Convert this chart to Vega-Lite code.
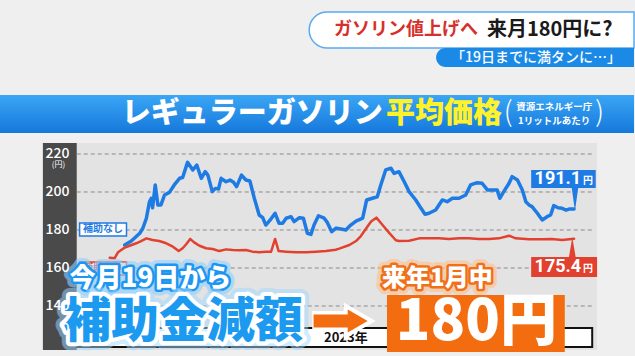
{
"$schema":"https://vega.github.io/schema/vega-lite/v6.json",
"width":635,"height":356,
"autosize":{"type":"fit","contains":"padding"},
"padding":0,
"background":"#efefef",
"config":{"view":{"stroke":null},"text":{"font":"Noto Sans CJK JP"}},
"datasets":{"prices":[
{"series":"補助なし","date":"2022-02-27","value":172.1},
{"series":"補助なし","date":"2022-03-14","value":174.2},
{"series":"補助なし","date":"2022-04-02","value":178.3},
{"series":"補助なし","date":"2022-04-09","value":180.9},
{"series":"補助なし","date":"2022-04-17","value":186.2},
{"series":"補助なし","date":"2022-04-24","value":194.9},
{"series":"補助なし","date":"2022-04-28","value":196.7},
{"series":"補助なし","date":"2022-05-01","value":191.7},
{"series":"補助なし","date":"2022-05-07","value":203.7},
{"series":"補助なし","date":"2022-05-13","value":193.2},
{"series":"補助なし","date":"2022-05-20","value":193.2},
{"series":"補助なし","date":"2022-05-28","value":198.4},
{"series":"補助なし","date":"2022-06-08","value":199.8},
{"series":"補助なし","date":"2022-06-19","value":203.7},
{"series":"補助なし","date":"2022-07-01","value":207.2},
{"series":"補助なし","date":"2022-07-08","value":207.6},
{"series":"補助なし","date":"2022-07-19","value":215.6},
{"series":"補助なし","date":"2022-07-31","value":211.6},
{"series":"補助なし","date":"2022-08-09","value":214.2},
{"series":"補助なし","date":"2022-08-19","value":207.2},
{"series":"補助なし","date":"2022-08-28","value":210.7},
{"series":"補助なし","date":"2022-09-03","value":208.9},
{"series":"補助なし","date":"2022-09-13","value":200.2},
{"series":"補助なし","date":"2022-09-20","value":201.9},
{"series":"補助なし","date":"2022-09-27","value":201.6},
{"series":"補助なし","date":"2022-10-03","value":207.2},
{"series":"補助なし","date":"2022-10-14","value":205.4},
{"series":"補助なし","date":"2022-10-23","value":206.3},
{"series":"補助なし","date":"2022-10-31","value":205.1},
{"series":"補助なし","date":"2022-11-07","value":202.8},
{"series":"補助なし","date":"2022-11-18","value":208.9},
{"series":"補助なし","date":"2022-11-28","value":206.3},
{"series":"補助なし","date":"2022-12-07","value":205.8},
{"series":"補助なし","date":"2022-12-17","value":196.7},
{"series":"補助なし","date":"2022-12-28","value":187.9},
{"series":"補助なし","date":"2023-01-05","value":186.5},
{"series":"補助なし","date":"2023-01-12","value":182.6},
{"series":"補助なし","date":"2023-01-22","value":185.3},
{"series":"補助なし","date":"2023-02-02","value":188.8},
{"series":"補助なし","date":"2023-02-11","value":183.5},
{"series":"補助なし","date":"2023-02-19","value":183.5},
{"series":"補助なし","date":"2023-02-27","value":186.2},
{"series":"補助なし","date":"2023-03-10","value":187.0},
{"series":"補助なし","date":"2023-03-17","value":184.4},
{"series":"補助なし","date":"2023-03-29","value":186.5},
{"series":"補助なし","date":"2023-04-07","value":186.2},
{"series":"補助なし","date":"2023-04-16","value":178.3},
{"series":"補助なし","date":"2023-04-24","value":177.7},
{"series":"補助なし","date":"2023-05-01","value":182.6},
{"series":"補助なし","date":"2023-05-11","value":187.5},
{"series":"補助なし","date":"2023-05-24","value":186.2},
{"series":"補助なし","date":"2023-05-31","value":184.0},
{"series":"補助なし","date":"2023-06-10","value":179.1},
{"series":"補助なし","date":"2023-06-20","value":181.0},
{"series":"補助なし","date":"2023-07-01","value":180.5},
{"series":"補助なし","date":"2023-07-12","value":180.0},
{"series":"補助なし","date":"2023-07-23","value":182.6},
{"series":"補助なし","date":"2023-08-04","value":184.7},
{"series":"補助なし","date":"2023-08-19","value":186.2},
{"series":"補助なし","date":"2023-08-28","value":195.8},
{"series":"補助なし","date":"2023-09-10","value":196.7},
{"series":"補助なし","date":"2023-09-21","value":197.5},
{"series":"補助なし","date":"2023-09-29","value":203.7},
{"series":"補助なし","date":"2023-10-10","value":211.6},
{"series":"補助なし","date":"2023-10-22","value":212.5},
{"series":"補助なし","date":"2023-10-29","value":209.8},
{"series":"補助なし","date":"2023-11-09","value":210.7},
{"series":"補助なし","date":"2023-11-21","value":205.4},
{"series":"補助なし","date":"2023-12-02","value":200.2},
{"series":"補助なし","date":"2023-12-17","value":195.8},
{"series":"補助なし","date":"2023-12-29","value":191.4},
{"series":"補助なし","date":"2024-01-07","value":188.3},
{"series":"補助なし","date":"2024-01-16","value":188.8},
{"series":"補助なし","date":"2024-01-31","value":190.5},
{"series":"補助なし","date":"2024-02-15","value":195.8},
{"series":"補助なし","date":"2024-02-26","value":194.9},
{"series":"補助なし","date":"2024-03-09","value":196.7},
{"series":"補助なし","date":"2024-03-24","value":196.7},
{"series":"補助なし","date":"2024-04-08","value":198.4},
{"series":"補助なし","date":"2024-04-19","value":203.7},
{"series":"補助なし","date":"2024-05-04","value":204.9},
{"series":"補助なし","date":"2024-05-15","value":204.6},
{"series":"補助なし","date":"2024-05-27","value":201.1},
{"series":"補助なし","date":"2024-06-11","value":201.1},
{"series":"補助なし","date":"2024-06-18","value":201.1},
{"series":"補助なし","date":"2024-06-24","value":196.7},
{"series":"補助なし","date":"2024-07-03","value":200.2},
{"series":"補助なし","date":"2024-07-15","value":204.6},
{"series":"補助なし","date":"2024-07-22","value":208.1},
{"series":"補助なし","date":"2024-08-03","value":206.3},
{"series":"補助なし","date":"2024-08-14","value":201.1},
{"series":"補助なし","date":"2024-08-22","value":194.9},
{"series":"補助なし","date":"2024-08-29","value":193.2},
{"series":"補助なし","date":"2024-09-05","value":192.3},
{"series":"補助なし","date":"2024-09-17","value":188.8},
{"series":"補助なし","date":"2024-09-28","value":185.3},
{"series":"補助なし","date":"2024-10-09","value":187.0},
{"series":"補助なし","date":"2024-10-17","value":187.9},
{"series":"補助なし","date":"2024-10-24","value":192.8},
{"series":"補助なし","date":"2024-11-03","value":191.7},
{"series":"補助なし","date":"2024-11-12","value":191.4},
{"series":"補助なし","date":"2024-11-21","value":190.5},
{"series":"補助なし","date":"2024-11-29","value":191.1},
{"series":"補助なし","date":"2024-12-09","value":191.1},
{"series":"補助あり","date":"2022-01-24","value":165.4},
{"series":"補助あり","date":"2022-02-04","value":165.1},
{"series":"補助あり","date":"2022-02-12","value":168.3},
{"series":"補助あり","date":"2022-02-19","value":169.5},
{"series":"補助あり","date":"2022-02-27","value":170.7},
{"series":"補助あり","date":"2022-03-10","value":171.7},
{"series":"補助あり","date":"2022-03-25","value":173.0},
{"series":"補助あり","date":"2022-04-05","value":174.2},
{"series":"補助あり","date":"2022-04-17","value":175.6},
{"series":"補助あり","date":"2022-05-01","value":174.7},
{"series":"補助あり","date":"2022-05-16","value":174.2},
{"series":"補助あり","date":"2022-06-01","value":173.0},
{"series":"補助あり","date":"2022-06-16","value":171.2},
{"series":"補助あり","date":"2022-06-29","value":168.9},
{"series":"補助あり","date":"2022-07-08","value":170.4},
{"series":"補助あり","date":"2022-07-16","value":172.5},
{"series":"補助あり","date":"2022-07-25","value":175.3},
{"series":"補助あり","date":"2022-08-03","value":173.5},
{"series":"補助あり","date":"2022-08-15","value":171.7},
{"series":"補助あり","date":"2022-08-30","value":170.4},
{"series":"補助あり","date":"2022-09-14","value":170.0},
{"series":"補助あり","date":"2022-09-29","value":168.9},
{"series":"補助あり","date":"2022-10-14","value":169.8},
{"series":"補助あり","date":"2022-10-29","value":169.5},
{"series":"補助あり","date":"2022-11-13","value":169.3},
{"series":"補助あり","date":"2022-11-28","value":169.5},
{"series":"補助あり","date":"2022-12-13","value":168.6},
{"series":"補助あり","date":"2022-12-28","value":168.3},
{"series":"補助あり","date":"2023-01-12","value":168.6},
{"series":"補助あり","date":"2023-01-24","value":168.6},
{"series":"補助あり","date":"2023-02-02","value":175.3},
{"series":"補助あり","date":"2023-02-10","value":168.9},
{"series":"補助あり","date":"2023-02-27","value":168.6},
{"series":"補助あり","date":"2023-03-21","value":168.3},
{"series":"補助あり","date":"2023-04-13","value":168.3},
{"series":"補助あり","date":"2023-05-05","value":168.6},
{"series":"補助あり","date":"2023-05-28","value":169.0},
{"series":"補助あり","date":"2023-06-19","value":169.6},
{"series":"補助あり","date":"2023-06-27","value":170.2},
{"series":"補助あり","date":"2023-07-20","value":172.1},
{"series":"補助あり","date":"2023-08-04","value":174.2},
{"series":"補助あり","date":"2023-08-15","value":176.8},
{"series":"補助あり","date":"2023-08-26","value":180.5},
{"series":"補助あり","date":"2023-09-07","value":184.5},
{"series":"補助あり","date":"2023-09-19","value":186.5},
{"series":"補助あり","date":"2023-10-03","value":182.6},
{"series":"補助あり","date":"2023-10-18","value":178.5},
{"series":"補助あり","date":"2023-11-02","value":174.6},
{"series":"補助あり","date":"2023-11-09","value":174.2},
{"series":"補助あり","date":"2023-12-02","value":174.3},
{"series":"補助あり","date":"2023-12-25","value":175.6},
{"series":"補助あり","date":"2024-01-16","value":175.6},
{"series":"補助あり","date":"2024-02-08","value":175.6},
{"series":"補助あり","date":"2024-03-01","value":175.3},
{"series":"補助あり","date":"2024-03-24","value":175.6},
{"series":"補助あり","date":"2024-04-15","value":175.6},
{"series":"補助あり","date":"2024-05-08","value":175.3},
{"series":"補助あり","date":"2024-05-31","value":175.3},
{"series":"補助あり","date":"2024-06-22","value":175.6},
{"series":"補助あり","date":"2024-07-15","value":177.0},
{"series":"補助あり","date":"2024-07-30","value":175.6},
{"series":"補助あり","date":"2024-08-29","value":175.1},
{"series":"補助あり","date":"2024-09-28","value":175.1},
{"series":"補助あり","date":"2024-10-20","value":175.3},
{"series":"補助あり","date":"2024-11-12","value":174.7},
{"series":"補助あり","date":"2024-12-09","value":175.4}
]},
"encoding":{
 "x":{"field":"date","type":"temporal","axis":null,"scale":{"domain":[{"year":2021,"month":5,"date":21},{"year":2025,"month":4,"date":23,"hours":12}],"nice":false}},
 "y":{"field":"value","type":"quantitative","scale":{"domain":[113.68,301.05],"nice":false,"zero":false},
  "axis":{"orient":"left","offset":-70,"values":[127.9,140,160,180,200,220],"labelExpr":"datum.value < 135 ? '0' : datum.label","domain":false,"ticks":false,"tickSize":0,"grid":false,"labelPadding":1,"labelColor":"#ffffff","labelFont":"Noto Sans CJK JP","labelFontSize":14,"labelFontWeight":500,"title":null,"zindex":1,"labelOverlap":false}}
},
"layer":[
 {"data":{"values":[{"date":"2021-08-26","date2":"2025-01-30","value":225.8,"value2":116.8}]},
  "mark":{"type":"rect","color":"#e3e3e3"},"encoding":{"x2":{"field":"date2"},"y2":{"field":"value2"}}},
 {"data":{"values":[{"date":"2021-08-26","date2":"2021-11-10T12:00:00","value":225.8,"value2":116.8}]},
  "mark":{"type":"rect","color":"#4a4a4a"},"encoding":{"x2":{"field":"date2"},"y2":{"field":"value2"}}},
 {"data":{"values":[{"value":140,"date":"2021-11-10T12:00:00","date2":"2025-01-19"},{"value":160,"date":"2021-11-10T12:00:00","date2":"2025-01-19"},{"value":180,"date":"2021-11-10T12:00:00","date2":"2025-01-19"},{"value":200,"date":"2021-11-10T12:00:00","date2":"2025-01-19"},{"value":220,"date":"2021-11-10T12:00:00","date2":"2025-01-19"}]},
  "mark":{"type":"rule","color":"#8a8a8a","strokeWidth":1,"strokeDash":[4,3]},"encoding":{"x2":{"field":"date2"}}},
 {"data":{"values":[{"text":"(円)","date":"2021-09-30","value":214.2}]},
  "mark":{"type":"text","color":"#ffffff","fontSize":8,"baseline":"middle"},"encoding":{"text":{"field":"text"}}},
 {"data":{"values":[{"date":"2021-11-10T12:00:00","date2":"2025-01-19","value":128.4,"value2":118.4}]},
  "mark":{"type":"rect","fill":"#ffffff","stroke":"#111111","strokeWidth":2},"encoding":{"x2":{"field":"date2"},"y2":{"field":"value2"}}},
 {"data":{"values":[{"text":"2022年","date":"2022-07-02","value":123.2},{"text":"2023年","date":"2023-07-12","value":123.2},{"text":"2024年","date":"2024-07-01","value":123.2}]},
  "mark":{"type":"text","color":"#111111","fontSize":13,"fontWeight":700,"baseline":"middle"},"encoding":{"text":{"field":"text"}}},
 {"data":{"name":"prices"},
  "mark":{"type":"line","strokeJoin":"round","strokeCap":"round"},
  "encoding":{"color":{"field":"series","type":"nominal","scale":{"domain":["補助なし","補助あり"],"range":["#1f7be4","#e2412f"]},"legend":null},
   "strokeWidth":{"field":"series","type":"nominal","scale":{"domain":["補助なし","補助あり"],"range":[3.5,2.5]},"legend":null}}},
 {"data":{"values":[{"series":"補助なし","date":"2021-11-17","date2":"2022-03-03","value":183.7,"value2":176.8},{"series":"補助あり","date":"2021-11-17","date2":"2022-03-03","value":163.2,"value2":156.3}]},
  "mark":{"type":"rect","fill":"#ffffff","strokeWidth":1.5},
  "encoding":{"x2":{"field":"date2"},"y2":{"field":"value2"},"stroke":{"field":"series","type":"nominal","scale":{"domain":["補助なし","補助あり"],"range":["#1f7be4","#e2412f"]},"legend":null}}},
 {"data":{"values":[{"series":"補助なし","date":"2022-01-09","value":180.3},{"series":"補助あり","date":"2022-01-09","value":159.8}]},
  "mark":{"type":"text","fontSize":10,"fontWeight":700,"baseline":"middle"},
  "encoding":{"text":{"field":"series"},"color":{"field":"series","type":"nominal","legend":null}}},
 {"data":{"values":[{"series":"補助なし","end":"base","date":"2024-12-11","value":203.2},{"series":"補助なし","end":"tip","date":"2024-12-11","value":191.8},{"series":"補助あり","end":"base","date":"2024-12-05","value":165.3},{"series":"補助あり","end":"tip","date":"2024-12-05","value":174.6}]},
  "mark":{"type":"trail"},
  "encoding":{"color":{"field":"series","type":"nominal","legend":null},"detail":{"field":"series"},
   "order":{"field":"end"},
   "size":{"field":"end","type":"ordinal","scale":{"domain":["base","tip"],"range":[7,1]},"legend":null}}},
 {"data":{"values":[{"series":"補助なし","date":"2024-09-03","date2":"2025-01-27","value":211.6,"value2":202.1},{"series":"補助あり","date":"2024-09-03","date2":"2025-01-30","value":165.8,"value2":155.3}]},
  "mark":{"type":"rect"},
  "encoding":{"x2":{"field":"date2"},"y2":{"field":"value2"},"color":{"field":"series","type":"nominal","legend":null}}},
 {"data":{"values":[{"text":"191.1","date":"2024-12-25","value":206.8},{"text":"175.4","date":"2024-12-25","value":160.5}]},
  "mark":{"type":"text","color":"#ffffff","fontSize":18,"fontWeight":700,"font":"Roboto","align":"right","baseline":"middle"},
  "encoding":{"text":{"field":"text"}}},
 {"data":{"values":[{"text":"円","date":"2024-12-29","value":206.8},{"text":"円","date":"2024-12-29","value":160.5}]},
  "mark":{"type":"text","color":"#ffffff","fontSize":10,"fontWeight":700,"align":"left","baseline":"middle","dy":2},
  "encoding":{"text":{"field":"text"}}},

 {"data":{"values":[{"text":"今月19日から","date":"2022-04-26","value":154.2}]},
  "mark":{"type":"text","fontSize":26,"fontWeight":900,"baseline":"middle","color":"#8fd0ff","stroke":"#8fd0ff","strokeWidth":12,"strokeJoin":"round","opacity":0.6},
  "encoding":{"text":{"field":"text"}}},
 {"data":{"values":[{"text":"今月19日から","date":"2022-04-26","value":154.2}]},
  "mark":{"type":"text","fontSize":26,"fontWeight":900,"baseline":"middle","color":"#1e96f0","stroke":"#1e96f0","strokeWidth":5,"strokeJoin":"round"},
  "encoding":{"text":{"field":"text"}}},
 {"data":{"values":[{"text":"今月19日から","date":"2022-04-26","value":154.2}]},
  "mark":{"type":"text","fontSize":26,"fontWeight":900,"baseline":"middle","color":"#ffffff"},
  "encoding":{"text":{"field":"text"}}},

 {"data":{"values":[{"text":"来年1月中","date":"2024-02-04","value":154.2}]},
  "mark":{"type":"text","fontSize":24,"fontWeight":900,"baseline":"middle","color":"#ffc08a","stroke":"#ffc08a","strokeWidth":12,"strokeJoin":"round","opacity":0.6},
  "encoding":{"text":{"field":"text"}}},
 {"data":{"values":[{"text":"来年1月中","date":"2024-02-04","value":154.2}]},
  "mark":{"type":"text","fontSize":24,"fontWeight":900,"baseline":"middle","color":"#f0701a","stroke":"#f0701a","strokeWidth":5,"strokeJoin":"round"},
  "encoding":{"text":{"field":"text"}}},
 {"data":{"values":[{"text":"来年1月中","date":"2024-02-04","value":154.2}]},
  "mark":{"type":"text","fontSize":24,"fontWeight":900,"baseline":"middle","color":"#ffffff"},
  "encoding":{"text":{"field":"text"}}},

 {"data":{"values":[{"text":"補助金減額","date":"2022-07-09","value":131.0}]},
  "mark":{"type":"text","fontSize":48,"fontWeight":900,"baseline":"middle","color":"#9fd8ff","stroke":"#9fd8ff","strokeWidth":16,"strokeJoin":"round","opacity":0.5},
  "encoding":{"text":{"field":"text"}}},
 {"data":{"values":[{"text":"補助金減額","date":"2022-07-09","value":131.0}]},
  "mark":{"type":"text","fontSize":48,"fontWeight":900,"baseline":"middle","color":"#ffffff","stroke":"#ffffff","strokeWidth":8,"strokeJoin":"round"},
  "encoding":{"text":{"field":"text"}}},
 {"data":{"values":[{"text":"補助金減額","date":"2022-07-09","value":131.0}]},
  "mark":{"type":"text","fontSize":48,"fontWeight":900,"baseline":"middle","color":"#1b9af0"},
  "encoding":{"text":{"field":"text"}}},

 {"data":{"values":[{"date":"2023-04-27","date2":"2023-07-22","value":132.1}]},
  "mark":{"type":"rule","color":"#ffffff","strokeWidth":20},"encoding":{"x2":{"field":"date2"}}},
 {"data":{"values":[{"date":"2023-08-10","value":132.1}]},
  "mark":{"type":"point","shape":"triangle-right","filled":true,"size":900,"color":"#f36c10","stroke":"#ffffff","strokeWidth":4,"opacity":1}},
 {"data":{"values":[{"date":"2023-04-30","date2":"2023-07-24","value":132.1}]},
  "mark":{"type":"rule","color":"#f36c10","strokeWidth":13},"encoding":{"x2":{"field":"date2"}}},

 {"data":{"values":[{"date":"2023-10-13","date2":"2024-11-18","value":145.8,"value2":115.8}]},
  "mark":{"type":"rect","color":"#f36c10"},"encoding":{"x2":{"field":"date2"},"y2":{"field":"value2"}}},
 {"data":{"values":[{"text":"180円","date":"2024-05-02","value":131.0}]},
  "mark":{"type":"text","fontSize":57,"fontWeight":900,"baseline":"middle","color":"#ffffff"},
  "encoding":{"text":{"field":"text"}}},

 {"data":{"values":[{"date":"2023-04-20","date2":"2025-04-23T12:00:00","value":294.7,"value2":275.8}]},
  "mark":{"type":"rect","fill":"#ffffff","stroke":"#5aaaf0","strokeWidth":1.5,"cornerRadiusTopLeft":18,"cornerRadiusBottomLeft":18},
  "encoding":{"x2":{"field":"date2"},"y2":{"field":"value2"}}},
 {"data":{"values":[{"date":"2024-02-01","date2":"2025-04-23T12:00:00","value":275.8,"value2":265.8}]},
  "mark":{"type":"rect","fill":"#1b8ae6","cornerRadiusTopLeft":10,"cornerRadiusBottomLeft":10},
  "encoding":{"x2":{"field":"date2"},"y2":{"field":"value2"}}},
 {"data":{"values":[{"text":"ガソリン値上げへ","date":"2023-06-15","value":285.3}]},
  "mark":{"type":"text","fontSize":18,"fontWeight":700,"align":"left","baseline":"middle","color":"#d7302a"},
  "encoding":{"text":{"field":"text"}}},
 {"data":{"values":[{"text":"来月180円に?","date":"2024-05-26","value":285.3}]},
  "mark":{"type":"text","fontSize":20,"fontWeight":700,"align":"left","baseline":"middle","color":"#1a1a1a"},
  "encoding":{"text":{"field":"text"}}},
 {"data":{"values":[{"text":"「19日までに満タンに…」","date":"2024-03-06","value":270.5}]},
  "mark":{"type":"text","fontSize":14,"fontWeight":500,"align":"left","baseline":"middle","color":"#ffffff"},
  "encoding":{"text":{"field":"text"}}},

 {"data":{"values":[{"date":"2021-05-21","date2":"2025-04-23T12:00:00","value":251.0,"value2":231.0}]},
  "mark":{"type":"rect","fill":{"gradient":"linear","x1":0,"y1":0,"x2":0,"y2":1,"stops":[{"offset":0,"color":"#3aa6f4"},{"offset":1,"color":"#1578dc"}]}},
  "encoding":{"x2":{"field":"date2"},"y2":{"field":"value2"}}},
 {"data":{"values":[{"text":"レギュラーガソリン","date":"2022-02-20","value":241.3}]},
  "mark":{"type":"text","fontSize":29,"fontWeight":900,"align":"left","baseline":"middle","color":"#ffffff"},
  "encoding":{"text":{"field":"text"}}},
 {"data":{"values":[{"text":"平均価格","date":"2023-10-11","value":241.3}]},
  "mark":{"type":"text","fontSize":29,"fontWeight":900,"align":"left","baseline":"middle","color":"#fff22a"},
  "encoding":{"text":{"field":"text"}}},
 {"data":{"values":[{"text":"(","date":"2024-07-13","value":241.3},{"text":")","date":"2025-02-05","value":241.3}]},
  "mark":{"type":"text","fontSize":28,"fontWeight":300,"baseline":"middle","color":"#ffffff"},
  "encoding":{"text":{"field":"text"}}},
 {"data":{"values":[{"text":"資源エネルギー庁","date":"2024-10-25","value":244.8},{"text":"1リットルあたり","date":"2024-10-25","value":237.4}]},
  "mark":{"type":"text","fontSize":9.5,"fontWeight":700,"baseline":"middle","color":"#ffffff"},
  "encoding":{"text":{"field":"text"}}}
]
}
